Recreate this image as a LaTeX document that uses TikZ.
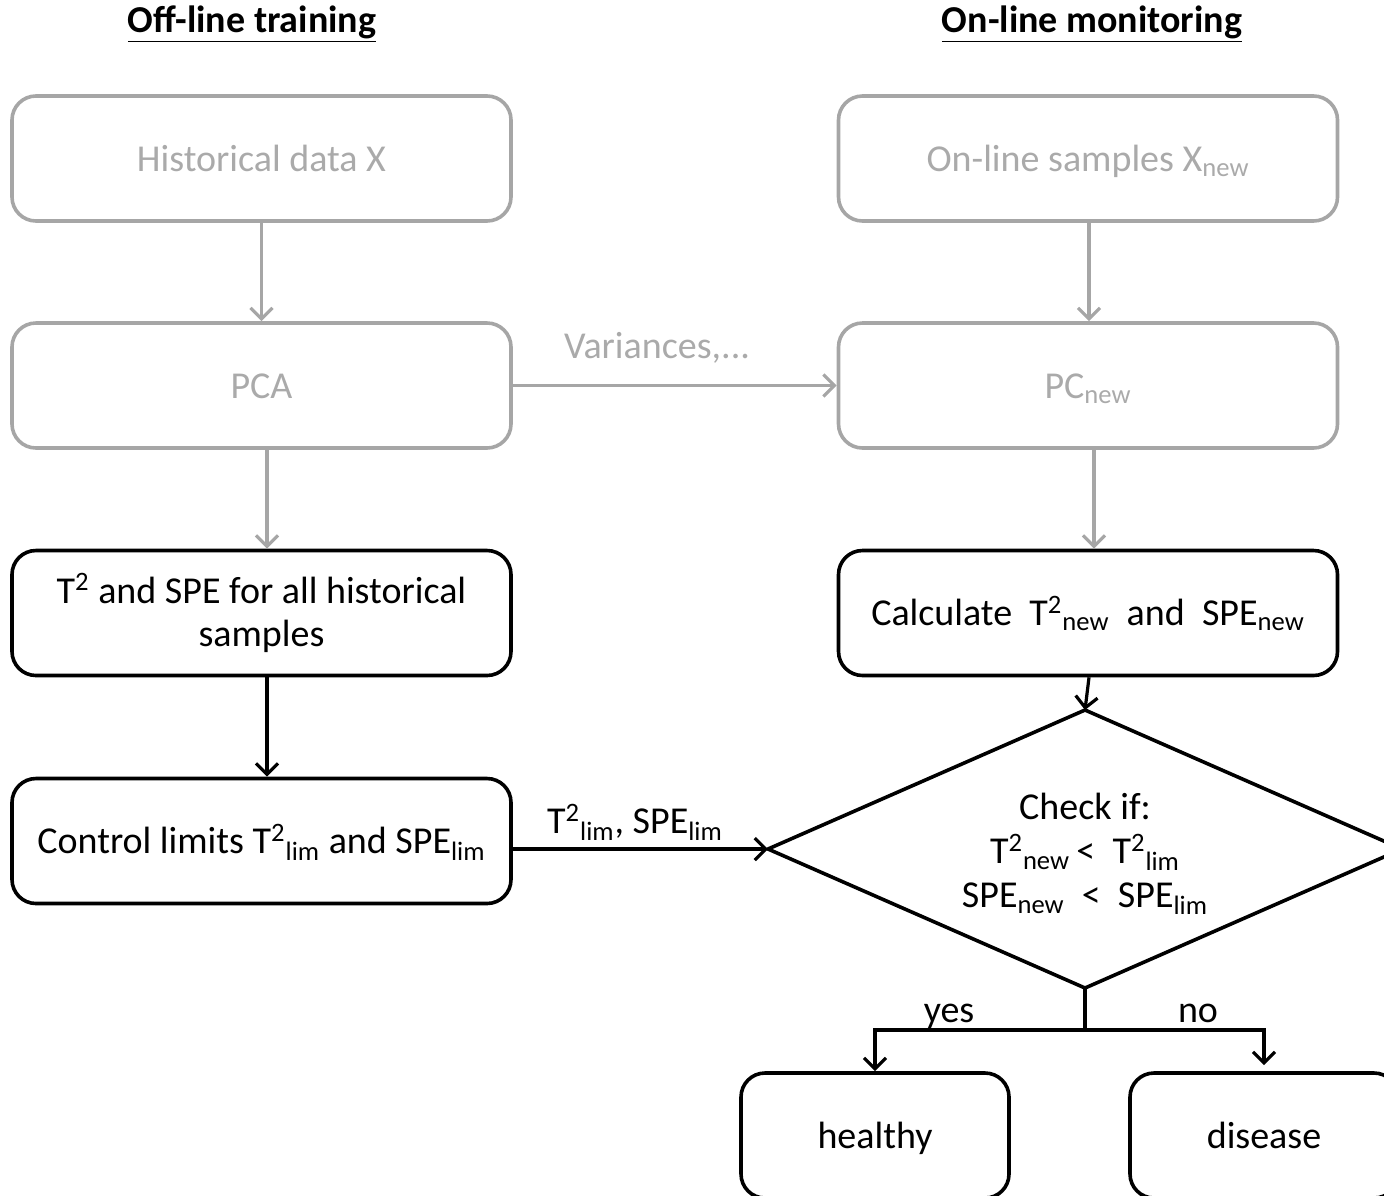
\documentclass[tikz,border=0pt]{standalone}
\usepackage{fontspec}
\setmainfont{Carlito}
\usetikzlibrary{arrows.meta,calc}
\definecolor{lgray}{RGB}{166,166,166}
\definecolor{tgray}{RGB}{170,170,170}
\begin{document}
\begin{tikzpicture}[x=0.5pt,y=-0.5pt,
  txt/.style={font=\fontsize{19}{21.5}\selectfont},
  box/.style={txt, draw, rounded corners=12pt, line width=1.8pt, minimum width=249.5pt, minimum height=62.5pt, align=center, inner sep=0pt},
  onel/.style={text height=12.6pt, text depth=0pt},
  gbox/.style={box, draw=lgray, text=tgray},
  arr/.style={line width=1.6pt, -{Straight Barb[length=5.5pt,width=11pt]}},
  garr/.style={arr, draw=lgray},
  lbl/.style={txt, inner sep=0pt},
  ttl/.style={font=\fontsize{19}{22}\selectfont\bfseries, inner sep=0pt, anchor=base}
]
\useasboundingbox (0,0) rectangle (1384,1195);
\clip (0,0) rectangle (1384,1195);
% titles
\node[ttl] (t1) at (252,32) {\underline{Off-line training}};
\node[ttl] (t2) at (1092,32) {\underline{On-line monitoring}};
% left column
\node[gbox, onel] (b1) at (261.5,158.5) {Historical data X};
\node[gbox, onel] (b2) at (261.5,385.5) {PCA};
\node[box] (b3) at (261.5,613) {T\textsuperscript{2} and SPE for all historical\\samples};
\node[box, onel] (b4) at (261.5,841) {Control limits T\textsuperscript{2}\textsubscript{lim} and SPE\textsubscript{lim}};
% right column
\node[gbox, onel] (r1) at (1088,158.5) {On-line samples X\textsubscript{new}};
\node[gbox, onel] (r2) at (1088,385.5) {PC\textsubscript{new}};
\node[box, onel] (r3) at (1088,613) {Calculate\ \ T\textsuperscript{2}\textsubscript{new}\ \ and\ \ SPE\textsubscript{new}};
% decision diamond
\coordinate (dT) at (1085,710);
\coordinate (dL) at (768,849);
\coordinate (dR) at (1402,849);
\coordinate (dB) at (1085,988);
\draw[line width=1.8pt, line join=miter] (dT) -- (dR) -- (dB) -- (dL) -- cycle;
\node[txt, align=center, inner sep=0pt, font=\fontsize{19}{22}\selectfont] (d) at (1085,854) {Check if:\\T\textsuperscript{2}\textsubscript{new}\,<\ \ T\textsuperscript{2}\textsubscript{lim}\\SPE\textsubscript{new}\ \ <\ \ SPE\textsubscript{lim}};
\node[box, minimum width=134pt, onel] (h) at (875,1135.5) {healthy};
\node[box, minimum width=134pt, onel] (dis) at (1264,1135.5) {disease};
% connectors
\draw[garr] (b1.south) -- (b2.north);
\draw[garr] ([xshift=2.75pt]b2.south) -- ([xshift=2.75pt]b3.north);
\draw[arr] ([xshift=2.75pt]b3.south) -- ([xshift=2.75pt]b4.north);
\draw[garr] ([xshift=0.5pt]r1.south) -- ([xshift=0.5pt]r2.north);
\draw[garr] ([xshift=3pt]r2.south) -- ([xshift=3pt]r3.north);
\draw[arr] ([xshift=0.5pt]r3.south) -- (dT);
\draw[garr] (b2.east) -- (r2.west);
\node[lbl, text=tgray] (lv) at (657,348) {Variances,...};
\draw[arr] (b4.east |- dL) -- (dL);
\node[lbl] (lt) at (635,822) {T\textsuperscript{2}\textsubscript{lim}, SPE\textsubscript{lim}};
\coordinate (j) at (1085,1030);
\draw[line width=1.6pt] (dB) -- (j);
\draw[arr] (j) -| (h.north);
\draw[arr, shorten >=3pt] (j) -| (dis.north);
\node[lbl, anchor=base] (ly) at (949,1022) {yes};
\node[lbl, anchor=base] (ln) at (1198,1022) {no};
\end{tikzpicture}
\end{document}
